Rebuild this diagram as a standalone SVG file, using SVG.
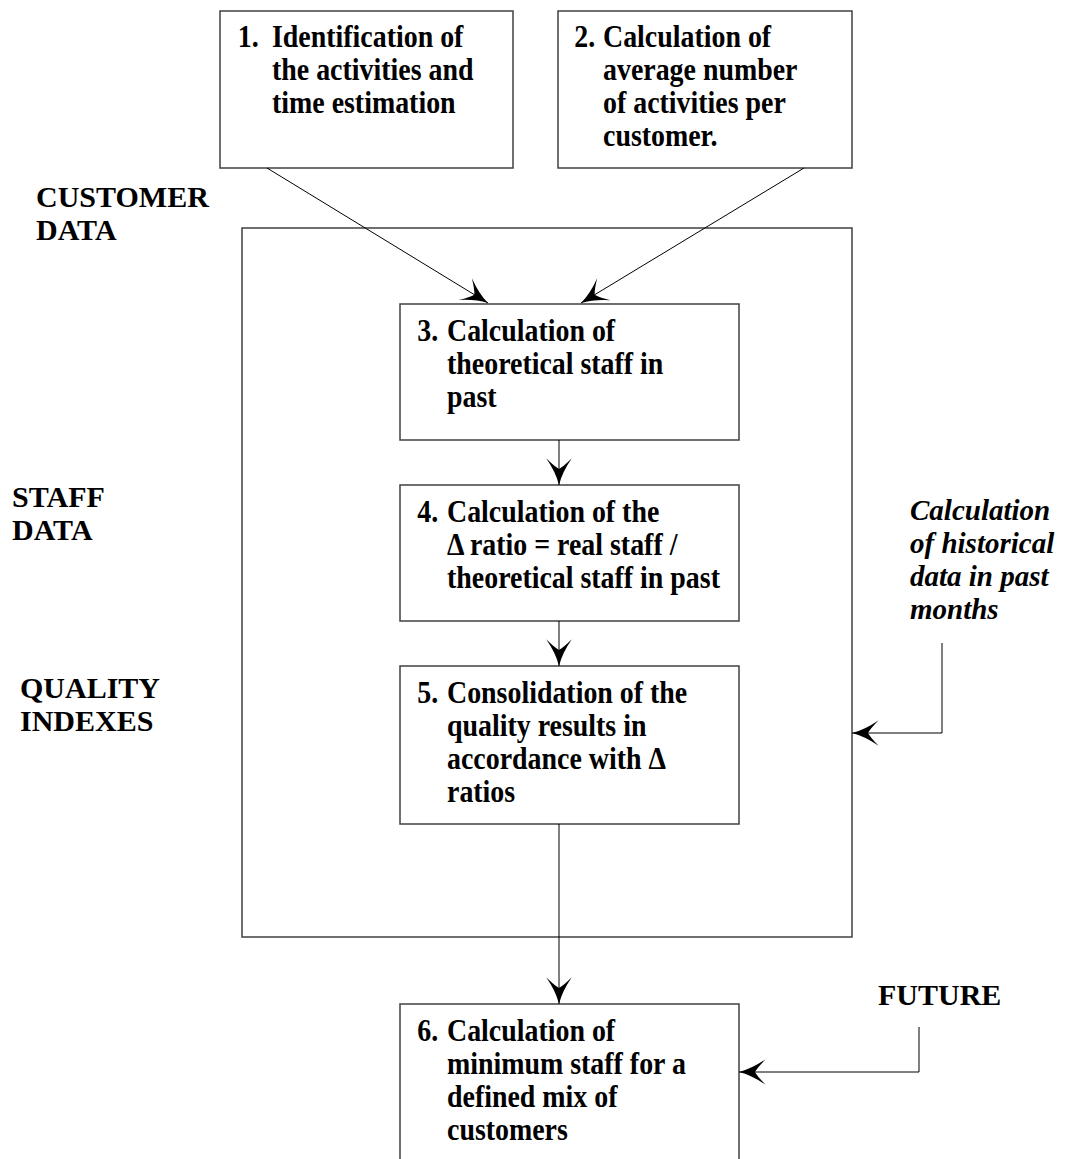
<svg xmlns="http://www.w3.org/2000/svg" width="1065" height="1159" viewBox="0 0 1065 1159">
<style>
.box{fill:#fff;stroke:#404040;stroke-width:1.5}
.t{font-family:"Liberation Serif","Times New Roman",serif;font-weight:bold;font-size:31px;fill:#000}
.lab{font-family:"Liberation Serif","Times New Roman",serif;font-weight:bold;font-size:30px;fill:#000}
.it{font-family:"Liberation Serif","Times New Roman",serif;font-weight:bold;font-style:italic;font-size:29px;fill:#000}
.c{fill:none;stroke:#000;stroke-width:1}
</style>
<defs>
<marker id="ah" markerUnits="userSpaceOnUse" markerWidth="32" markerHeight="32" viewBox="-28 -14 30 28" refX="0" refY="0" orient="auto">
<path d="M0,0 Q-12,-3 -25,-12 Q-17,-4 -15,0 Q-17,4 -25,12 Q-12,3 0,0 Z" fill="#000"/>
</marker>
</defs>
<rect x="0" y="0" width="1065" height="1159" fill="#fff"/>
<g id="outer"><rect class="box" x="242" y="228" width="610" height="709"/></g>
<g id="labels">
<text class="lab" x="36" y="207">CUSTOMER</text>
<text class="lab" x="36" y="240">DATA</text>
<text class="lab" x="12" y="507">STAFF</text>
<text class="lab" x="12" y="540">DATA</text>
<text class="lab" x="20" y="698">QUALITY</text>
<text class="lab" x="20" y="731">INDEXES</text>
<text class="lab" x="878" y="1005">FUTURE</text>
<text class="it" x="910" y="520">Calculation</text>
<text class="it" x="910" y="553">of historical</text>
<text class="it" x="910" y="586">data in past</text>
<text class="it" x="910" y="619">months</text>
</g>
<g id="n1"><rect class="box" x="220" y="11" width="293" height="157"/>
<g transform="translate(272,0) scale(0.9,1)">
<text class="t" x="-38" y="47">1.</text>
<text class="t"><tspan x="0" y="47">Identification of</tspan><tspan x="0" y="80">the activities and</tspan><tspan x="0" y="113">time estimation</tspan></text></g></g>
<g id="n2"><rect class="box" x="558" y="11" width="294" height="157"/>
<g transform="translate(603,0) scale(0.9,1)">
<text class="t" x="-32" y="47">2.</text>
<text class="t"><tspan x="0" y="47">Calculation of</tspan><tspan x="0" y="80">average number</tspan><tspan x="0" y="113">of activities per</tspan><tspan x="0" y="146">customer.</tspan></text></g></g>
<g id="n3"><rect class="box" x="400" y="304" width="339" height="136"/>
<g transform="translate(447,0) scale(0.9,1)">
<text class="t" x="-33" y="341">3.</text>
<text class="t"><tspan x="0" y="341">Calculation of</tspan><tspan x="0" y="374">theoretical staff in</tspan><tspan x="0" y="407">past</tspan></text></g></g>
<g id="n4"><rect class="box" x="400" y="485" width="339" height="136"/>
<g transform="translate(447,0) scale(0.9,1)">
<text class="t" x="-33" y="522">4.</text>
<text class="t"><tspan x="0" y="522">Calculation of the</tspan><tspan x="0" y="555">Δ ratio = real staff /</tspan><tspan x="0" y="588">theoretical staff in past</tspan></text></g></g>
<g id="n5"><rect class="box" x="400" y="666" width="339" height="158"/>
<g transform="translate(447,0) scale(0.9,1)">
<text class="t" x="-33" y="703">5.</text>
<text class="t"><tspan x="0" y="703">Consolidation of the</tspan><tspan x="0" y="736">quality results in</tspan><tspan x="0" y="769">accordance with Δ</tspan><tspan x="0" y="802">ratios</tspan></text></g></g>
<g id="n6"><rect class="box" x="400" y="1004" width="339" height="170"/>
<g transform="translate(447,0) scale(0.9,1)">
<text class="t" x="-33" y="1041">6.</text>
<text class="t"><tspan x="0" y="1041">Calculation of</tspan><tspan x="0" y="1074">minimum staff for a</tspan><tspan x="0" y="1107">defined mix of</tspan><tspan x="0" y="1140">customers</tspan></text></g></g>
<g id="connectors">
<path class="c" d="M267,168 L488,303" marker-end="url(#ah)"/>
<path class="c" d="M804,168 L581,303" marker-end="url(#ah)"/>
<path class="c" d="M559,440 L559,485" marker-end="url(#ah)"/>
<path class="c" d="M559,621 L559,666" marker-end="url(#ah)"/>
<path class="c" d="M559,824 L559,1004" marker-end="url(#ah)"/>
<path class="c" d="M942,643 L942,733 L852,733" marker-end="url(#ah)"/>
<path class="c" d="M919,1027 L919,1072 L739,1072" marker-end="url(#ah)"/>
</g>
</svg>
